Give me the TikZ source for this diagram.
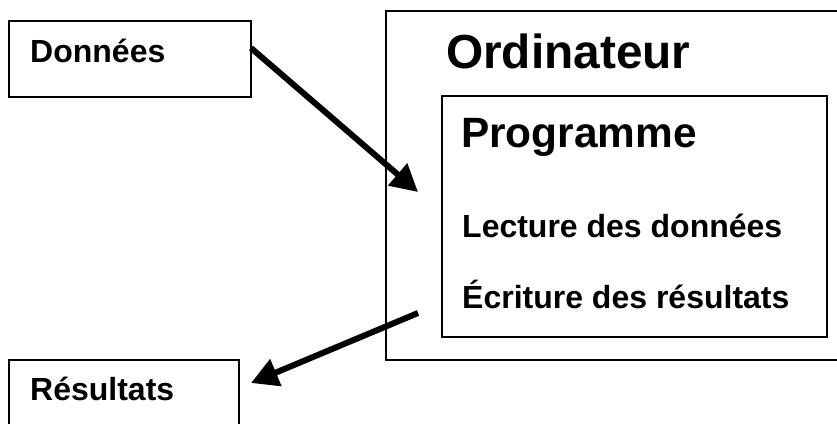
\documentclass[tikz,border=0pt]{standalone}
\usepackage{fontspec}
\setmainfont{Liberation Sans}
\usetikzlibrary{arrows.meta}

\begin{document}
\begin{tikzpicture}[x=1pt, y=-1pt,
      box/.style={draw, line width=2pt, rectangle, inner sep=0pt, outer sep=0pt, anchor=north west},
      txt/.style={anchor=base west, inner sep=0pt, font=\bfseries\fontsize{#1}{#1}\selectfont},
      arr/.style={-{Triangle[length=27pt, width=28pt]}, line width=6pt}]
    \useasboundingbox (0,0) rectangle (837,423);
    % boxes
    \node[box, minimum width=242pt, minimum height=76pt] (donnees) at (9,21) {};
    \node[box, minimum width=230pt, minimum height=80pt] (resultats) at (9,360) {};
    \node[box, minimum width=460pt, minimum height=349pt] (ordinateur) at (386,11) {};
    \node[box, minimum width=385pt, minimum height=241pt] (programme) at (442,96) {};
    % texts
    \node[txt=32] (donneesT) at (30,62) {Données};
    \node[txt=32] (resultatsT) at (30,400) {Résultats};
    \node[txt=47.8] (ordinateurT) at (446,68) {Ordinateur};
    \node[txt=42.4] (programmeT) at (461,147) {Programme};
    \node[txt=32] (lecture) at (462,237) {Lecture des données};
    \node[txt=32] (ecriture) at (462,308) {Écriture des résultats};
    % flows
    \coordinate (entree) at (418,192);
    \coordinate (sortie) at (418,313);
    \coordinate (arrivee) at (251,383);
    \draw[arr] ([yshift=-27pt]donnees.north east) -- (entree);
    \draw[arr] (sortie) -- (arrivee);
  \end{tikzpicture}
\end{document}
